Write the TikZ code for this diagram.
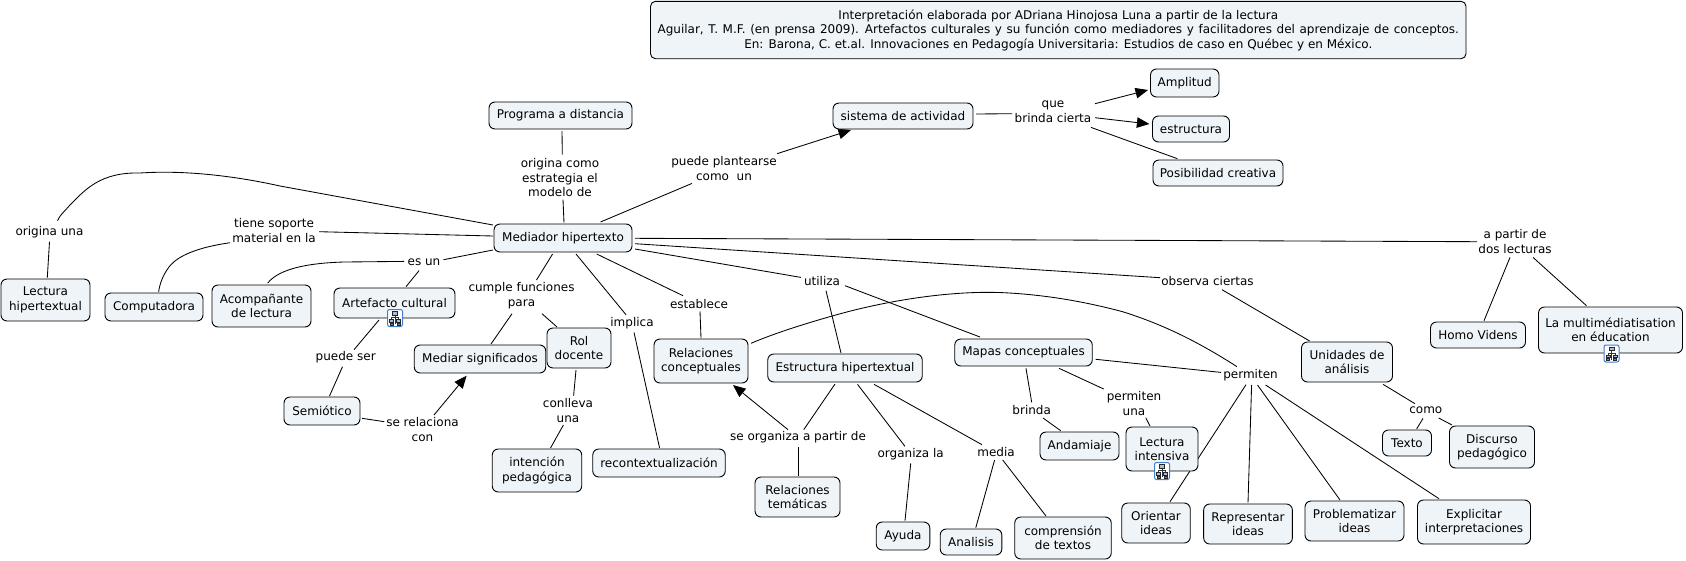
\documentclass[tikz,border=0pt]{standalone}
\usepackage{fontspec}
\setmainfont{DejaVu Sans}
\usetikzlibrary{arrows.meta,backgrounds}
\definecolor{boxfill}{RGB}{238,244,247}
\definecolor{iconblue}{RGB}{70,125,205}
\tikzset{
  box/.style n args={2}{draw=black,line width=0.9pt,fill=boxfill,rounded corners=6pt,
     minimum width=#1pt,minimum height=#2pt,inner sep=0pt,align=center,
     font=\fontsize{12}{14.5}\selectfont},
  lab/.style={inner sep=0pt,align=center,yshift=-0.7pt,font=\fontsize{12}{14.5}\selectfont},
  link/.style={draw=black,line width=0.85pt},
  head/.style={link,-{Triangle[length=12.5pt,width=10.5pt]}},
  pics/cmicon/.style={code={
    \draw[iconblue,line width=1pt,fill=white,rounded corners=2pt] (-7.5,-8.5) rectangle (7.5,8.5);
    \draw[black!80,line width=0.7pt] (0,-3) -- (0,-0.5) (-3.5,1.5) -- (-3.5,-0.5) -- (3.5,-0.5) -- (3.5,1.5) (0,-0.5) -- (0,6);
    \draw[black!85,fill=iconblue!50,line width=0.6pt] (-2.5,-6.5) rectangle (2.5,-3);
    \draw[black!85,fill=iconblue!50,line width=0.6pt] (-5.5,1.5) rectangle (-1.5,4);
    \draw[black!85,fill=iconblue!50,line width=0.6pt] (1.5,1.5) rectangle (5.5,4);
    \draw[black!85,fill=black!50,line width=0.6pt] (-5,5) rectangle (-2,7);
    \draw[black!85,fill=black!50,line width=0.6pt] (2,5) rectangle (5,7);
  }}
}
\newcommand{\conn}[5][link]{\draw[#1] ([shift={(#3)}]#2.center) -- ([shift={(#5)}]#4.center);}
\begin{document}
\begin{tikzpicture}[x=1pt,y=-1pt]
\useasboundingbox (0,0) rectangle (1686,560);
% concept boxes
\node[box={815.5}{57.4},rounded corners=5pt] (title) at (1058.25,30) {Interpretación elaborada por ADriana Hinojosa Luna a partir de la lectura\\{\spaceskip=4.6pt Aguilar, T. M.F. (en prensa 2009). Artefactos culturales y su función como mediadores y facilitadores del aprendizaje de conceptos.}\\En: Barona, C. et.al. Innovaciones en Pedagogía Universitaria: Estudios de caso en Québec y en México.};
\node[box={143}{27}] (prog) at (560.5,115.5) {Programa a distancia};
\node[box={138}{28}] (med) at (563,238) {Mediador hipertexto};
\node[box={140}{26}] (sis) at (903,116) {sistema de actividad};
\node[box={68.5}{28}] (amp) at (1184.75,83) {Amplitud};
\node[box={77}{26}] (est) at (1191,129) {estructura};
\node[box={130}{26}] (pos) at (1218,173) {Posibilidad creativa};
\node[box={89}{42}] (lhip) at (45.5,300) {Lectura\\hipertextual};
\node[box={98}{28}] (comp) at (154,307) {Computadora};
\node[box={99}{42}] (aco) at (261.5,306) {Acompañante\\de lectura};
\node[box={121}{30}] (art) at (394.5,303) {Artefacto cultural};
\node[box={76}{28}] (sem) at (322,411) {Semiótico};
\node[box={131.5}{28}] (mediar) at (480,359) {Mediar significados};
\node[box={64}{40}] (rol) at (579,348) {Rol\\docente};
\node[box={94}{44}] (relc) at (701,361) {Relaciones\\conceptuales};
\node[box={89.5}{43}] (int) at (537,470.5) {intención\\pedagógica};
\node[box={132.5}{28}] (rec) at (659,463) {recontextualización};
\node[box={154.5}{28}] (estrh) at (845,368) {Estructura hipertextual};
\node[box={85}{40}] (relt) at (797.5,497) {Relaciones\\temáticas};
\node[box={137.5}{27}] (mapas) at (1023.5,352.5) {Mapas conceptuales};
\node[box={91}{40}] (uni) at (1347,362) {Unidades de\\análisis};
\node[box={95}{26}] (homo) at (1478,335) {Homo Videns};
\node[box={144}{46}] (multi) at (1610.5,330) {La multimédiatisation\\en éducation};
\node[box={79}{28}] (anda) at (1079.5,446) {Andamiaje};
\node[box={72}{44}] (lint) at (1162,449) {Lectura\\intensiva};
\node[box={49}{26}] (texto) at (1407,443) {Texto};
\node[box={85}{42}] (disc) at (1492,447) {Discurso\\pedagógico};
\node[box={53.6}{28}] (ayuda) at (903,536) {Ayuda};
\node[box={61.6}{26}] (anal) at (971,542) {Analisis};
\node[box={96.5}{42}] (compr) at (1063,538) {comprensión\\de textos};
\node[box={68.5}{40}] (ori) at (1156,523) {Orientar\\ideas};
\node[box={88.7}{40}] (rep) at (1248,524) {Representar\\ideas};
\node[box={99}{40}] (prob) at (1354.5,521) {Problematizar\\ideas};
\node[box={113}{44}] (expl) at (1474,522) {Explicitar\\interpretaciones};
% linking phrases
\node[lab] (lorig) at (560,177) {origina como\\estrategia el\\modelo de};
\node[lab] (lpuede) at (724,168) {puede plantearse\\como\ \ un};
\node[lab] (lque) at (1053,111) {que\\brinda cierta};
\node[lab] (lorun) at (49.5,231) {origina una};
\node[lab] (ltiene) at (274,230) {tiene soporte\\material en la};
\node[lab] (lesun) at (424,262) {es un};
\node[lab] (lcumple) at (521.5,295) {cumple funciones\\para};
\node[lab] (limpl) at (632,322) {implica};
\node[lab] (lestab) at (699,303) {establece};
\node[lab] (lutil) at (822,280) {utiliza};
\node[lab] (lobs) at (1207.5,280) {observa ciertas};
\node[lab] (lapart) at (1515,241) {a partir de\\dos lecturas};
\node[lab] (lpser) at (345.7,356) {puede ser};
\node[lab] (lserel) at (422.5,428.7) {se relaciona\\con};
\node[lab] (lconl) at (568,409.7) {conlleva\\una};
\node[lab] (lorg) at (798,436) {se organiza a partir de};
\node[lab] (lorgla) at (910.7,453) {organiza la};
\node[lab] (lmedia) at (996,451) {media};
\node[lab] (lbrin) at (1031.7,409) {brinda};
\node[lab] (lperu) at (1134,403) {permiten\\una};
\node[lab] (lperm) at (1250.5,374) {permiten};
\node[lab] (lcomo) at (1425.8,410) {como};
% map icons
\pic at (395,318) {cmicon};
\pic at (1611.5,353.5) {cmicon};
\pic at (1162,471) {cmicon};
% connectors
\begin{scope}[on background layer]
\conn{prog}{1.5,15.5}{lorig}{2.3,-23}
\conn{lorig}{3,22}{med}{1,-15.3}
\conn{med}{37.5,-16}{lpuede}{-32,14.7}
\conn[head]{lpuede}{53,-15}{sis}{-52,14}
\conn{sis}{73,-2}{lque}{-41,2}
\conn[head]{lque}{42,-8}{amp}{-36.75,7}
\conn[head]{lque}{42,6}{est}{-41.6,-5}
\conn{lque}{38,15.7}{pos}{-40.6,-14.3}
\draw[link] ([shift={(-70,-13)}]med.center) -- (280,186) .. controls (235,176) and (185,170) .. (140,173) .. controls (100,172) and (85,190) .. (70,205) .. controls (63,213) and (60,215) .. ([shift={(8,-11)}]lorun.center);
\conn{lorun}{0,10}{lhip}{1.8,-22.3}
\conn{med}{-70,-2}{ltiene}{45,1}
\draw[link] ([shift={(-44,12)}]ltiene.center) .. controls (200,247) and (178,255) .. (169,267) .. controls (163,275) and (160,283) .. ([shift={(4.6,-15.3)}]comp.center);
\conn{med}{-70,12}{lesun}{19.5,-3}
\draw[link] ([shift={(-20,-1.3)}]lesun.center) -- (344,262) .. controls (310,263) and (280,268) .. ([shift={(6.2,-23)}]aco.center);
\conn{lesun}{-5,8}{art}{11.5,-16.3}
\conn{art}{-15.5,17}{lpser}{8.3,-7}
\conn{lpser}{-3.2,10}{sem}{7.5,-15}
\conn{sem}{40,7.3}{lserel}{-38.1,-7.7}
\conn[head]{lserel}{11.5,-14.4}{mediar}{-13.4,16.7}
\conn{med}{-10.4,16}{lcumple}{15,-15.7}
\conn{lcumple}{-9.5,18}{mediar}{11,-15}
\conn{lcumple}{20.5,18}{rol}{-22,-21}
\conn{rol}{-3,22}{lconl}{5.6,-14.7}
\conn{lconl}{-4.6,14.6}{int}{13.5,-22.5}
\conn{med}{13,16}{limpl}{-6,-8}
\conn{limpl}{2,9.7}{rec}{0.6,-15}
\conn{med}{33.7,16}{lestab}{-16,-8}
\conn{lestab}{1,7.7}{relc}{0,-23}
\conn{med}{72,11}{lutil}{-21,-3.3}
\conn{lutil}{4,10}{estrh}{-4,-15}
\conn{lutil}{23,5}{mapas}{-43.5,-15.5}
\conn{med}{72,5.7}{lobs}{-47.5,-3}
\conn{med}{72,0.3}{lapart}{-38,0}
\conn{lapart}{-5,15.7}{homo}{6,-14.3}
\conn{lapart}{18,15.7}{multi}{-24,-24.3}
\conn{lobs}{14.5,9}{uni}{-37.4,-21}
\conn{uni}{36,22.3}{lcomo}{-10.8,-7}
\conn{lcomo}{-2.8,7.7}{texto}{9.6,-14}
\conn{lcomo}{12.9,7.3}{disc}{-40,-22}
\draw[link] ([shift={(50,-17.7)}]relc.center) .. controls (775,333) and (810,322) .. (843,313) .. controls (880,303) and (945,290) .. (1004,292.7) .. controls (1050,295) and (1090,303) .. (1122.6,311.7) .. controls (1165,325) and (1200,343) .. ([shift={(-13.5,-8)}]lperm.center);
\conn{mapas}{72.2,6.8}{lperm}{-29.5,-2.3}
\conn{mapas}{2.5,15.8}{lbrin}{0,-7.3}
\conn{lbrin}{11.3,8.3}{anda}{-18.8,-15.3}
\conn{mapas}{35.5,15.8}{lperu}{-30.3,-14.7}
\conn{lperu}{11.7,14}{lint}{-12,-23}
\conn{lperm}{-4.5,10}{ori}{14,-21.3}
\conn{lperm}{1.1,10.3}{rep}{0,-21.3}
\conn{lperm}{7,10.3}{prob}{-14.5,-21}
\conn{lperm}{15.1,10.3}{expl}{-35,-23.3}
\conn{estrh}{-10,16}{lorg}{5.7,-7}
\conn[head]{lorg}{-10,-7}{relc}{32,24}
\conn{lorg}{0,10}{relt}{0.5,-21.3}
\conn{estrh}{12.5,16.3}{lorgla}{-5.7,-7.3}
\conn{lorgla}{0,9.7}{ayuda}{2,-15.3}
\conn{estrh}{29,16.3}{lmedia}{-14,-7}
\conn{lmedia}{-1.4,8.3}{anal}{4.8,-14.3}
\conn{lmedia}{6.7,8.3}{compr}{-17,-22}
\end{scope}
\end{tikzpicture}
\end{document}
